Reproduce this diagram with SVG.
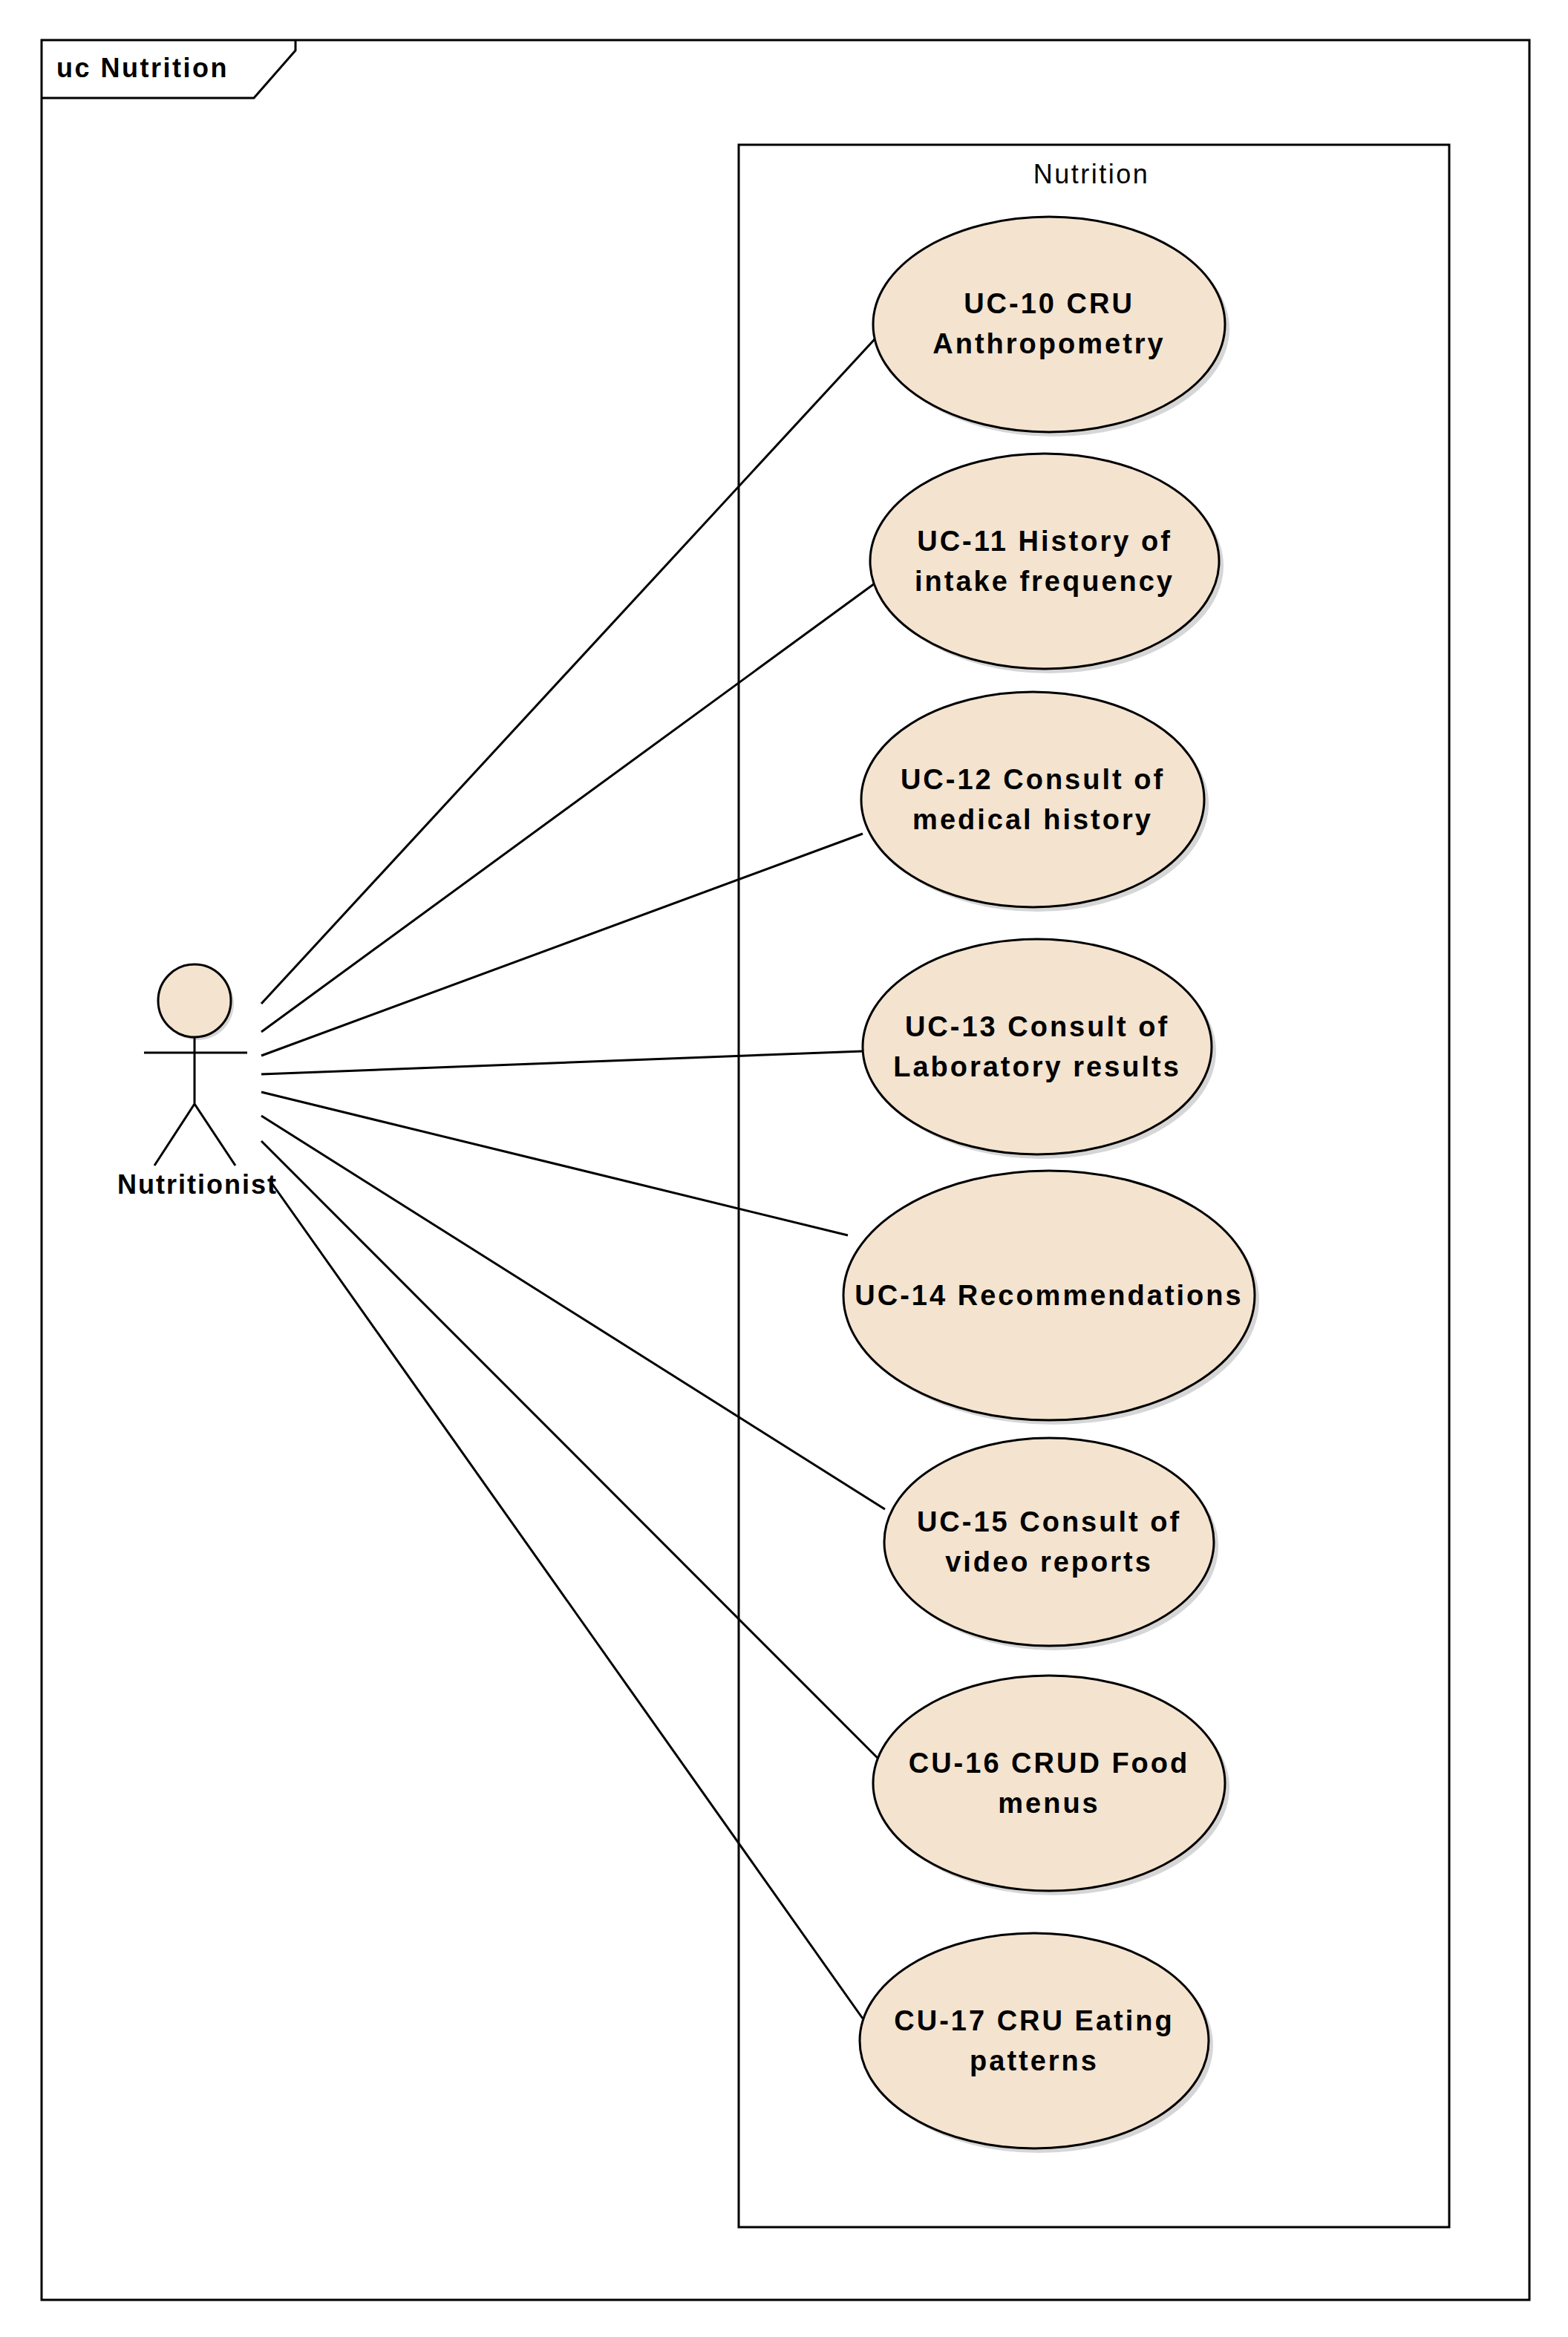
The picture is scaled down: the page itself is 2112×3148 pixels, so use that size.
<svg xmlns="http://www.w3.org/2000/svg" width="2112" height="3148" viewBox="0 0 2112 3148">
<style>
.uc{fill:#f3e3cf;stroke:#000;stroke-width:3}
.sh{fill:#bbb;opacity:0.6}
.t{font-family:"Liberation Sans",Arial,sans-serif;font-weight:bold;font-size:38px;text-anchor:middle;letter-spacing:3px;fill:#000}
.c line{stroke:#000;stroke-width:3}
</style>
<rect width="2112" height="3148" fill="#fff"/>
<g id="frame">
<rect x="56" y="54" width="2004" height="3044" fill="none" stroke="#000" stroke-width="3"/>
<path d="M56 132 H342 L398 68 V54" fill="none" stroke="#000" stroke-width="3"/>
<text x="76" y="104" font-family="Liberation Sans,Arial,sans-serif" font-weight="bold" font-size="36" letter-spacing="2.5">uc Nutrition</text>
</g>
<g id="system">
<rect x="995" y="195" width="957" height="2805" fill="none" stroke="#000" stroke-width="3"/>
<text x="1470" y="247" font-family="Liberation Sans,Arial,sans-serif" font-size="36" text-anchor="middle" letter-spacing="2.5">Nutrition</text>
</g>
<g class="c" id="connectors">
<line x1="352" y1="1352" x2="1178" y2="457"/>
<line x1="352" y1="1390" x2="1178" y2="786"/>
<line x1="352" y1="1422" x2="1162" y2="1123"/>
<line x1="352" y1="1447" x2="1162" y2="1416"/>
<line x1="352" y1="1471" x2="1142" y2="1664"/>
<line x1="352" y1="1503" x2="1192" y2="2033"/>
<line x1="352" y1="1537" x2="1186" y2="2372"/>
<line x1="362" y1="1588" x2="1162" y2="2719"/>
</g>
<g id="actor">
<circle cx="266" cy="1352" r="49" class="sh"/>
<circle cx="262" cy="1348" r="49" class="uc"/>
<path d="M262 1397 V1487 M194 1418 H333 M208 1570 L262 1487 L317 1570" fill="none" stroke="#000" stroke-width="3"/>
<text x="266" y="1608" class="t" style="font-size:36px;letter-spacing:2px">Nutritionist</text>
</g>
<g id="uc10"><ellipse cx="1419" cy="443" rx="237" ry="145" class="sh"/><ellipse cx="1413" cy="437" rx="237" ry="145" class="uc"/><text class="t" x="1413" y="422">UC-10 CRU</text><text class="t" x="1413" y="476">Anthropometry</text></g>
<g id="uc11"><ellipse cx="1413" cy="762" rx="235" ry="145" class="sh"/><ellipse cx="1407" cy="756" rx="235" ry="145" class="uc"/><text class="t" x="1407" y="742">UC-11 History of</text><text class="t" x="1407" y="796">intake frequency</text></g>
<g id="uc12"><ellipse cx="1397" cy="1083" rx="231" ry="145" class="sh"/><ellipse cx="1391" cy="1077" rx="231" ry="145" class="uc"/><text class="t" x="1391" y="1063">UC-12 Consult of</text><text class="t" x="1391" y="1117">medical history</text></g>
<g id="uc13"><ellipse cx="1403" cy="1416" rx="235" ry="145" class="sh"/><ellipse cx="1397" cy="1410" rx="235" ry="145" class="uc"/><text class="t" x="1397" y="1396">UC-13 Consult of</text><text class="t" x="1397" y="1450">Laboratory results</text></g>
<g id="uc14"><ellipse cx="1419" cy="1751" rx="277" ry="168" class="sh"/><ellipse cx="1413" cy="1745" rx="277" ry="168" class="uc"/><text class="t" x="1413" y="1758">UC-14 Recommendations</text></g>
<g id="uc15"><ellipse cx="1419" cy="2083" rx="222" ry="140" class="sh"/><ellipse cx="1413" cy="2077" rx="222" ry="140" class="uc"/><text class="t" x="1413" y="2063">UC-15 Consult of</text><text class="t" x="1413" y="2117">video reports</text></g>
<g id="cu16"><ellipse cx="1419" cy="2408" rx="237" ry="145" class="sh"/><ellipse cx="1413" cy="2402" rx="237" ry="145" class="uc"/><text class="t" x="1413" y="2388">CU-16 CRUD Food</text><text class="t" x="1413" y="2442">menus</text></g>
<g id="cu17"><ellipse cx="1399" cy="2755" rx="235" ry="145" class="sh"/><ellipse cx="1393" cy="2749" rx="235" ry="145" class="uc"/><text class="t" x="1393" y="2735">CU-17 CRU Eating</text><text class="t" x="1393" y="2789">patterns</text></g>
</svg>
